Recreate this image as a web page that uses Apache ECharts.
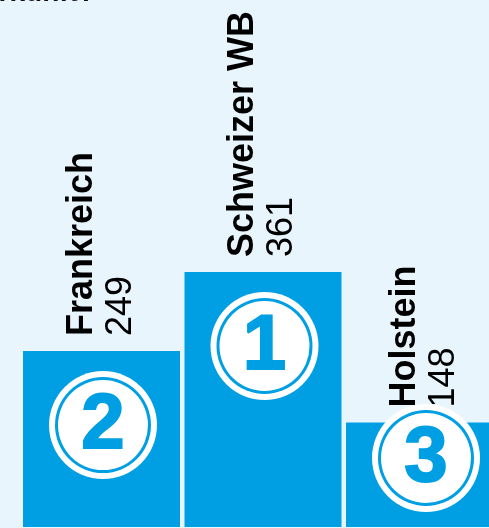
<!DOCTYPE html>
<html>
<head>
<meta charset="utf-8">
<script src="https://cdn.jsdelivr.net/npm/echarts@6/dist/echarts.min.js"></script>
<style>
  html, body { margin: 0; padding: 0; background: #e8f5fd; }
  #chart { width: 489px; height: 528px; }
</style>
</head>
<body>
<div id="chart"></div>
<script>
// Podest: Herkunft der Tiere
const categories = ['Frankreich', 'Schweizer WB', 'Holstein']
const values = [249, 361, 148]

const BLUE = '#009fe3'
const FONT = '"Liberation Sans", Arial, sans-serif'

// Rang aus den Werten (1 = größter Wert)
const sorted = values.slice().sort((a, b) => b - a)
const ranks = values.map(v => sorted.indexOf(v) + 1)

const chart = echarts.init(document.getElementById('chart'))

const option = {
  backgroundColor: '#e8f5fd',
  animation: false,
  // abgeschnittene Überschrift oben links
  graphic: [
    {
      type: 'text',
      x: 95,
      y: 7,
      style: {
        text: 'Welche Herkunft?',
        font: 'bold 28px ' + FONT,
        fill: '#111',
        textAlign: 'right',
        textVerticalAlign: 'bottom',
      },
    },
  ],
  grid: {
    left: 20.75,
    width: 484.5,
    top: 173.8,
    height: 353.2,
    outerBoundsMode: 'none',
    containLabel: false,
  },
  xAxis: {
    type: 'category',
    data: categories,
    show: false,
  },
  yAxis: {
    type: 'value',
    min: 0,
    max: 500,
    show: false,
  },
  series: [
    {
      type: 'bar',
      data: values,
      barWidth: 157,
      itemStyle: { color: BLUE },
      label: {
        show: true,
        position: 'top',
        distance: 15,
        rotate: 90,
        align: 'left',
        verticalAlign: 'middle',
        formatter: p => '{n|' + p.name + '}\n{v|' + p.value + '}',
        rich: {
          n: { fontFamily: FONT, fontWeight: 'bold', fontSize: 36, lineHeight: 39, color: '#000' },
          v: { fontFamily: FONT, fontWeight: 'normal', fontSize: 36, lineHeight: 39, color: '#000' },
        },
      },
    },
    {
      // Rang-Kreise in den Balken
      type: 'custom',
      z: 5,
      data: values.map((v, i) => [i, v, ranks[i]]),
      encode: { x: 0, y: 1 },
      renderItem (params, api) {
        const top = api.coord([api.value(0), api.value(1)])
        const base = api.coord([api.value(0), 0])
        const cx = top[0] + 1.5
        const cy = Math.min(top[1] + 74, base[1] - 69)
        return {
          type: 'group',
          children: [
            { type: 'circle', shape: { cx, cy, r: 54 }, style: { fill: '#fff' } },
            { type: 'circle', shape: { cx, cy, r: 48 }, style: { fill: BLUE } },
            { type: 'circle', shape: { cx, cy, r: 45 }, style: { fill: '#fff' } },
            {
              type: 'text',
              style: {
                text: String(api.value(2)),
                x: cx,
                y: cy + 1,
                textAlign: 'center',
                textVerticalAlign: 'middle',
                font: 'bold 78px ' + FONT,
                fill: BLUE,
                stroke: BLUE,
                lineWidth: 2,
              },
            },
          ],
        }
      },
    },
  ],
}

chart.setOption(option)
</script>
</body>
</html>
